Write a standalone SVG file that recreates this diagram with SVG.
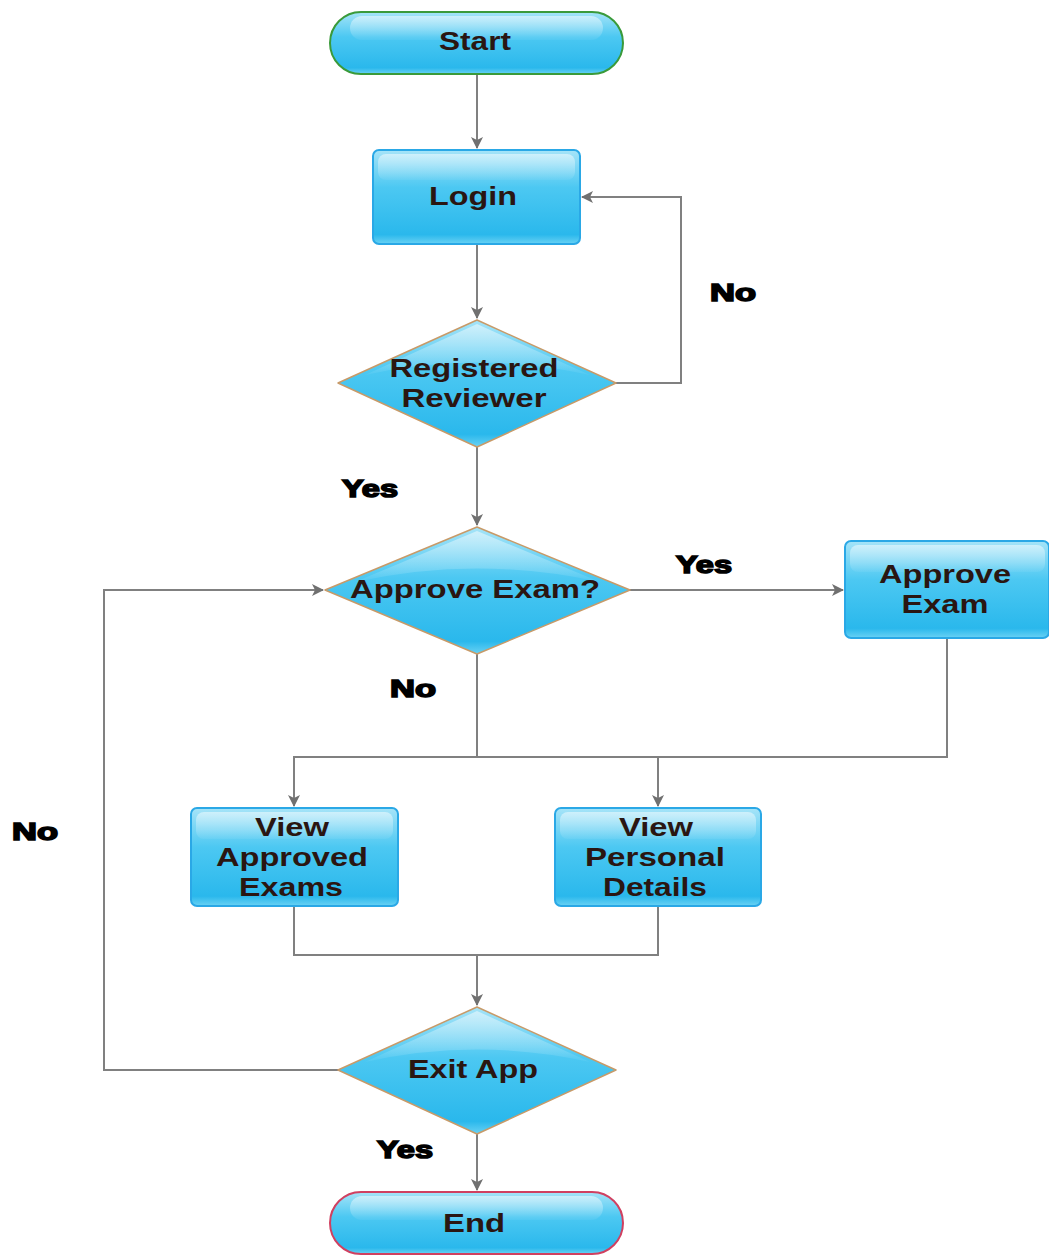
<svg xmlns="http://www.w3.org/2000/svg" width="1049" height="1255" viewBox="0 0 1049 1255">
<defs>
<linearGradient id="g" x1="0" y1="0" x2="0" y2="1">
<stop offset="0" stop-color="#a6e4f8"/>
<stop offset="0.4" stop-color="#4cc8f2"/>
<stop offset="0.9" stop-color="#2ab8ec"/>
<stop offset="1" stop-color="#6ad2f4"/>
</linearGradient>
<linearGradient id="hl" x1="0" y1="0" x2="0" y2="1">
<stop offset="0" stop-color="#ffffff" stop-opacity="0.5"/>
<stop offset="1" stop-color="#ffffff" stop-opacity="0.05"/>
</linearGradient>
<marker id="ah" markerWidth="12" markerHeight="12" refX="11" refY="6" orient="auto" markerUnits="userSpaceOnUse">
<path d="M0,0 L12,6 L0,12 L3,6 Z" fill="#707070"/>
</marker>
</defs>
<style>
.box{fill:url(#g);stroke:#2aa8e6;stroke-width:2}
.dia{fill:url(#g);stroke:#c89a68;stroke-width:1.5;stroke-linejoin:round}
.hl{fill:url(#hl)}
.t{font-family:"Liberation Sans",Arial,sans-serif;font-weight:bold;font-size:25px;fill:#2a1612;text-anchor:middle}
.lb{font-family:"Liberation Sans",Arial,sans-serif;font-weight:bold;font-size:24px;fill:#000;stroke:#000;stroke-width:1.6;text-anchor:middle}
.c{fill:none;stroke:#808080;stroke-width:2}
</style>
<g id="connectors">
<path class="c" d="M477,74 V148" marker-end="url(#ah)"/>
<path class="c" d="M477,244 V318" marker-end="url(#ah)"/>
<path class="c" d="M616,383 H681 V197 H582" marker-end="url(#ah)"/>
<path class="c" d="M477,447 V525" marker-end="url(#ah)"/>
<path class="c" d="M630,590 H843" marker-end="url(#ah)"/>
<path class="c" d="M477,654 V757"/>
<path class="c" d="M947,638 V757 H294 V806" marker-end="url(#ah)"/>
<path class="c" d="M658,757 V806" marker-end="url(#ah)"/>
<path class="c" d="M294,906 V955 H658 V906"/>
<path class="c" d="M477,955 V1005" marker-end="url(#ah)"/>
<path class="c" d="M338,1070 H104 V590 H323" marker-end="url(#ah)"/>
<path class="c" d="M477,1134 V1190" marker-end="url(#ah)"/>
<text class="lb" x="733" y="301" textLength="46" lengthAdjust="spacingAndGlyphs">No</text>
<text class="lb" x="370" y="497" textLength="56" lengthAdjust="spacingAndGlyphs">Yes</text>
<text class="lb" x="704" y="573" textLength="56" lengthAdjust="spacingAndGlyphs">Yes</text>
<text class="lb" x="413" y="697" textLength="46" lengthAdjust="spacingAndGlyphs">No</text>
<text class="lb" x="35" y="840" textLength="46" lengthAdjust="spacingAndGlyphs">No</text>
<text class="lb" x="405" y="1158" textLength="56" lengthAdjust="spacingAndGlyphs">Yes</text>
</g>
<g id="start">
<rect x="330" y="12" width="293" height="62" rx="31" class="box" style="stroke:#3a9a3a"/>
<rect x="350" y="16" width="253" height="24" rx="12" class="hl"/>
<text class="t" x="475" y="50" textLength="72" lengthAdjust="spacingAndGlyphs">Start</text>
</g>
<g id="login">
<rect x="373" y="150" width="207" height="94" rx="6" class="box"/>
<rect x="378" y="154" width="197" height="26" rx="8" class="hl"/>
<text class="t" x="473" y="205" textLength="88" lengthAdjust="spacingAndGlyphs">Login</text>
</g>
<g id="registered">
<path class="dia" d="M477,320 L616,383 L477,447 L338,383 Z"/>
<path class="hl" d="M477,324 L590,375 Q477,350 365,375 Z"/>
<text class="t" x="474" y="377" textLength="169" lengthAdjust="spacingAndGlyphs">Registered</text>
<text class="t" x="474" y="407" textLength="145" lengthAdjust="spacingAndGlyphs">Reviewer</text>
</g>
<g id="approve-q">
<path class="dia" d="M477,527 L630,590 L477,654 L325,590 Z"/>
<path class="hl" d="M477,531 L600,582 Q477,555 355,582 Z"/>
<text class="t" x="475" y="598" textLength="250" lengthAdjust="spacingAndGlyphs">Approve Exam?</text>
</g>
<g id="approve">
<rect x="845" y="541" width="204" height="97" rx="6" class="box"/>
<rect x="850" y="545" width="195" height="27" rx="8" class="hl"/>
<text class="t" x="945" y="583" textLength="132" lengthAdjust="spacingAndGlyphs">Approve</text>
<text class="t" x="945" y="613" textLength="87" lengthAdjust="spacingAndGlyphs">Exam</text>
</g>
<g id="view-approved">
<rect x="191" y="808" width="207" height="98" rx="6" class="box"/>
<rect x="196" y="812" width="197" height="27" rx="8" class="hl"/>
<text class="t" x="292" y="836" textLength="74" lengthAdjust="spacingAndGlyphs">View</text>
<text class="t" x="292" y="866" textLength="152" lengthAdjust="spacingAndGlyphs">Approved</text>
<text class="t" x="291" y="896" textLength="104" lengthAdjust="spacingAndGlyphs">Exams</text>
</g>
<g id="view-personal">
<rect x="555" y="808" width="206" height="98" rx="6" class="box"/>
<rect x="560" y="812" width="196" height="27" rx="8" class="hl"/>
<text class="t" x="656" y="836" textLength="74" lengthAdjust="spacingAndGlyphs">View</text>
<text class="t" x="655" y="866" textLength="140" lengthAdjust="spacingAndGlyphs">Personal</text>
<text class="t" x="655" y="896" textLength="104" lengthAdjust="spacingAndGlyphs">Details</text>
</g>
<g id="exit">
<path class="dia" d="M477,1007 L616,1070 L477,1134 L338,1070 Z"/>
<path class="hl" d="M477,1011 L590,1062 Q477,1037 365,1062 Z"/>
<text class="t" x="473" y="1078" textLength="130" lengthAdjust="spacingAndGlyphs">Exit App</text>
</g>
<g id="end">
<rect x="330" y="1192" width="293" height="62" rx="31" class="box" style="stroke:#d04060"/>
<rect x="350" y="1196" width="253" height="24" rx="12" class="hl"/>
<text class="t" x="474" y="1232" textLength="62" lengthAdjust="spacingAndGlyphs">End</text>
</g>
</svg>
